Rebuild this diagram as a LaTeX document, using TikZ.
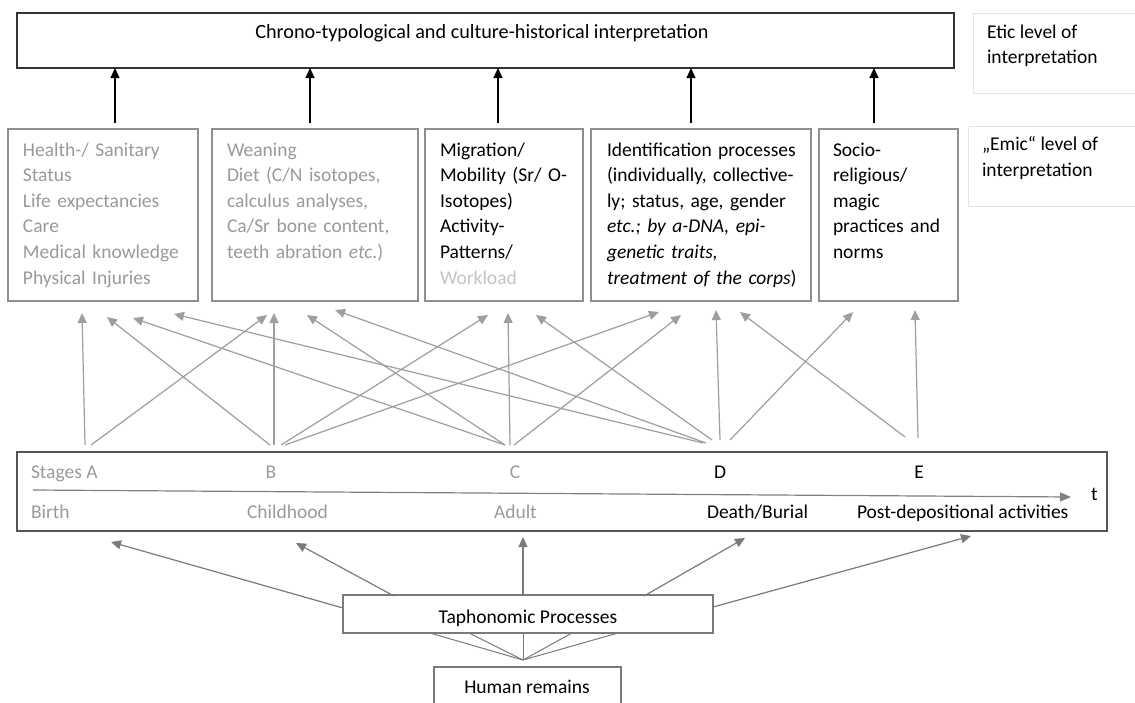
\documentclass[tikz,border=0pt]{standalone}
\usepackage{fontspec}
\setmainfont{Carlito}
\usetikzlibrary{arrows.meta}
\definecolor{txtgray}{HTML}{9A9A9A}
\definecolor{lightgrey}{HTML}{C4C4C4}
\definecolor{boxgray}{HTML}{8F8F8F}
\definecolor{arrgray}{HTML}{9E9E9E}
\definecolor{darkarr}{HTML}{7A7A7A}
\definecolor{stageb}{HTML}{555555}
\definecolor{framegray}{HTML}{E4E4E4}
\definecolor{topb}{HTML}{333333}
\begin{document}
\begin{tikzpicture}[x=1pt,y=-1pt,
  every node/.style={inner sep=0pt,outer sep=0pt},
  lbl/.style={font=\fontsize{19.5}{25.6}\selectfont,anchor=base west},
  mtext/.style={font=\fontsize{19.5}{25.6}\selectfont,anchor=north west,align=left,text width=240pt},
  mbox/.style={draw=boxgray,line width=1.8pt,anchor=north west},
  levelbox/.style={draw=framegray,line width=0.9pt,anchor=north west},
  blackarr/.style={draw=black,line width=1.2pt,-{Triangle[length=10pt,width=9pt]}},
  grayarr/.style={draw=arrgray,line width=1.2pt,-{Triangle[length=10pt,width=9pt]}},
  darkarrow/.style={draw=darkarr,line width=1.2pt,-{Triangle[length=10pt,width=9pt]}},
  fanline/.style={draw=darkarr,line width=1pt}
]
\clip (0,0) rectangle (1135,702);
\fill[white] (0,0) rectangle (1135,702);

% top box
\node[draw=topb,line width=1.3pt,anchor=north west,minimum width=937pt,minimum height=55pt] (top) at (17,13) {};
\node[lbl,anchor=base,font=\fontsize{20.2}{25.6}\selectfont] (toptxt) at (482,38) {Chrono-typological and culture-historical interpretation};

% level boxes
\node[levelbox,minimum width=180pt,minimum height=80pt] (etic) at (973,13) {};
\node[lbl] (etictxt) at (987,38) {Etic level of};
\node[lbl] (etictxtb) at (987,63) {interpretation};
\node[levelbox,minimum width=185pt,minimum height=80pt] (emic) at (968,126) {};
\node[lbl] (emictxt) at (982,150) {„Emic“ level of};
\node[lbl] (emictxtb) at (982,176) {interpretation};

% middle boxes
\node[mbox,minimum width=190pt,minimum height=172pt] (m1) at (8,129) {};
\node[mbox,minimum width=206pt,minimum height=172pt] (m2) at (212,129) {};
\node[mbox,minimum width=158pt,minimum height=172pt] (m3) at (425,129) {};
\node[mbox,minimum width=220pt,minimum height=172pt] (m4) at (591,129) {};
\node[mbox,minimum width=139pt,minimum height=172pt] (m5) at (819,129) {};

\node[mtext,text=txtgray] (m1t) at (23,138.1) {\strut Health-/ Sanitary\\Status\\Life expectancies\\Care\\Medical knowledge\\Physical Injuries};
\node[mtext,text=txtgray] (m2t) at (227,138.1) {\strut Weaning\\Diet (C/N isotopes,\\calculus analyses,\\Ca/Sr bone content,\\teeth abration \textit{etc.})};
\node[mtext] (m3t) at (440,138.1) {\strut Migration/\\Mobility (Sr/ O-\\Isotopes)\\Activity-\\Patterns/\\\textcolor{lightgrey}{Workload}};
\node[mtext] (m4t) at (607,138.1) {\strut Identification processes\\(individually, collective-\\ly; status, age, gender\\\textit{etc.; by a-DNA, epi-}\\\textit{genetic traits,}\\\textit{treatment of the corps})};
\node[mtext] (m5t) at (833,138.1) {\strut Socio-\\religious/\\magic\\practices and\\norms};

% arrows middle -> top
\foreach \n/\x in {u1/115,u2/310,u3/498,u4/691,u5/874}{
  \coordinate (\n) at (\x,123);
  \draw[blackarr] (\n) -- (\n |- top.south);
}

% stage box
\node[draw=stageb,line width=1.8pt,anchor=north west,minimum width=1090pt,minimum height=79pt] (stage) at (17,452) {};
\node[lbl,text=txtgray] (sa) at (31,478) {Stages A};
\node[lbl,text=txtgray,anchor=base] (sb) at (271,478) {B};
\node[lbl,text=txtgray,anchor=base] (sc) at (515,478) {C};
\node[lbl,anchor=base] (sd) at (720,478) {D};
\node[lbl,anchor=base] (se) at (919,478) {E};
\coordinate (tl0) at (33,490);
\coordinate (tl1) at (1071,497);
\draw[draw=gray,line width=1.2pt,-{Triangle[length=11pt,width=9pt]}] (tl0) -- (tl1);
\node[lbl] (tt) at (1091,500) {t};
\node[lbl,text=txtgray] (birth) at (31,518) {Birth};
\node[lbl,text=txtgray] (child) at (247,518) {Childhood};
\node[lbl,text=txtgray] (adult) at (494,518) {Adult};
\node[lbl] (death) at (707,518) {Death/Burial};
\node[lbl] (post) at (857,518) {Post-depositional activities};

% stage -> middle arrows
\foreach \n/\x/\y in {
  sA1/85/445,tA1/82/313, sA2/91/445,tA2/267/315,
  sB1/270/445,tB1/107/317, sB2/274/445,tB2/274/313, sB3/281/445,tB3/488/315, sB4/285/445,tB4/659/312,
  sC1/505/445,tC1/133/318, sC2/505/445,tC2/307/315, sC3/510/445,tC3/508/313, sC4/514/445,tC4/681/315,
  sD1/703/443,tD1/174/314, sD2/706/443,tD2/335/310, sD3/712/440,tD3/536/315, sD4/720/440,tD4/716/310, sD5/730/440,tD5/853/312,
  sE1/905/437,tE1/740/312, sE2/918/438,tE2/915/310}
  \coordinate (\n) at (\x,\y);
\foreach \k in {A1,A2,B1,B2,B3,B4,C1,C2,C3,C4,D1,D2,D3,D4,D5,E1,E2}
  \draw[grayarr] (s\k) -- (t\k);

% taphonomic + human remains
\node[draw=darkarr,line width=1.4pt,anchor=north west,minimum width=370pt,minimum height=38pt] (taph) at (343,595) {};
\node[lbl,anchor=base] (taphtxt) at (528,623) {Taphonomic Processes};
\node[draw=darkarr,line width=1.4pt,anchor=north west,minimum width=187pt,minimum height=50pt] (hum) at (434,667) {};
\node[lbl,anchor=base] (humtxt) at (527,693) {Human remains};

\coordinate (fan) at (523,660);
\foreach \n/\x in {f1/430,f2/469,f3/523,f4/572,f5/618}{
  \coordinate (\n) at (\x,633);
  \draw[fanline] (fan) -- (\n);
}

\foreach \n/\x/\y/\m/\p/\q in {b1/343/608/c1/111/542, b2/394/596/c2/296/543, b3/523/596/c3/523/537, b4/644/596/c4/745/538, b5/713/607/c5/971/536}{
  \coordinate (\n) at (\x,\y);
  \coordinate (\m) at (\p,\q);
  \draw[darkarrow] (\n) -- (\m);
}
\end{tikzpicture}
\end{document}
